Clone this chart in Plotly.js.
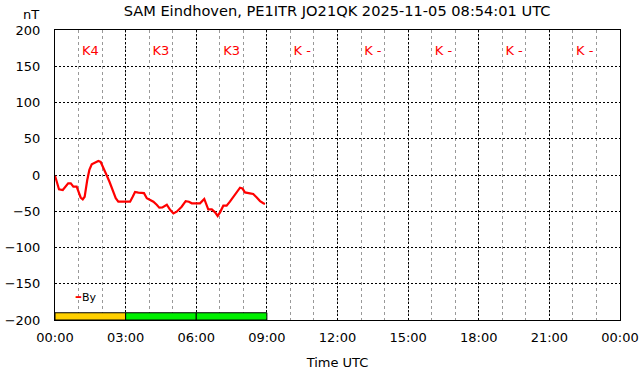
<!DOCTYPE html>
<html>
<head>
<meta charset="utf-8">
<script src="https://cdn.plot.ly/plotly-3.0.1.min.js"></script>
<style>html,body{margin:0;padding:0;background:#fff;}#chart{width:642px;height:376px;}</style>
</head>
<body>
<div id="chart"></div>
<script>
// By component (nT) versus time in hours UTC
const hours = [0.00,0.07,0.17,0.33,0.42,0.56,0.67,0.78,0.92,0.99,1.09,1.18,1.26,1.37,1.46,1.56,1.70,1.84,1.94,2.05,2.17,2.31,2.45,2.58,2.69,2.83,3.02,3.19,3.30,3.40,3.54,3.78,3.90,4.04,4.18,4.32,4.43,4.56,4.75,4.89,5.03,5.17,5.38,5.55,5.69,5.81,5.98,6.16,6.34,6.44,6.51,6.66,6.80,6.91,7.01,7.15,7.29,7.43,7.57,7.72,7.86,7.96,8.07,8.28,8.42,8.57,8.71,8.85,8.92];
const byValues = [-1,-9,-19.7,-20.7,-17,-11.5,-11.5,-16,-16,-21.6,-31,-33.5,-30,-7,7,14.7,17,19.3,18,9,1.4,-9,-20.7,-32,-36.8,-36.8,-36,-36.8,-30,-23.4,-24.4,-25,-32,-34.5,-36.8,-41,-45,-44.6,-41,-48,-53,-50.6,-43.7,-36,-36.8,-39,-39,-39,-33,-41,-47.3,-47.3,-51.5,-56.5,-51.5,-42.3,-42.3,-36.8,-30.8,-23,-17.5,-18.4,-24,-25.3,-26.2,-31,-36,-39,-40];

// K index per 3-hour block
const kCenters = [1.5,4.5,7.5,10.5,13.5,16.5,19.5,22.5];
const kLabels = ["K4","K3","K3","K -","K -","K -","K -","K -"];
const kBarCenters = [1.5,4.5,7.5];
const kBarColors = ["#ffd000","#00f000","#00f000"];

const xTickVals = [0,3,6,9,12,15,18,21,24];
const xTickText = ["00:00","03:00","06:00","09:00","12:00","15:00","18:00","21:00","00:00"];
const yTickVals = [-200,-150,-100,-50,0,50,100,150,200];

const titleText = "SAM Eindhoven, PE1ITR JO21QK 2025-11-05 08:54:01 UTC";
const seriesName = "By";

const font = "DejaVu Sans, sans-serif";

const traces = [
  {
    type: "bar",
    x: kBarCenters,
    y: kBarCenters.map(() => 10),
    base: -200,
    width: 3,
    marker: {color: kBarColors, line: {color: "#000", width: 1}},
    showlegend: false,
    hoverinfo: "skip"
  },
  {
    type: "scatter",
    mode: "text",
    x: kCenters,
    y: kCenters.map(() => 170),
    text: kLabels,
    textfont: {family: font, size: 13, color: "#ff0000"},
    showlegend: false,
    hoverinfo: "skip"
  },
  {
    type: "scatter",
    mode: "lines",
    name: seriesName,
    x: hours,
    y: byValues,
    line: {color: "#ff0000", width: 2.2},
    showlegend: false
  }
];

const layout = {
  width: 642,
  height: 376,
  margin: {l: 55, r: 22, t: 30, b: 56},
  paper_bgcolor: "#fff",
  plot_bgcolor: "#fff",
  font: {family: font, size: 13, color: "#000"},
  title: {text: titleText, x: 0.525, xanchor: "center", y: 0.985, yanchor: "top", font: {family: font, size: 14.6, color: "#000"}},
  showlegend: false,
  bargap: 0,
  xaxis: {
    range: [0, 24],
    tickvals: xTickVals,
    ticktext: xTickText,
    ticks: "",
    ticklabelstandoff: 5,
    showline: true, linecolor: "#000", linewidth: 1, mirror: true,
    showgrid: true, gridcolor: "#000", gridwidth: 1, griddash: "2px,2px",
    zeroline: false,
    minor: {dtick: 1, tick0: 0, showgrid: true, gridcolor: "#999", gridwidth: 1, griddash: "3px,3px", ticks: ""},
    title: {text: "Time UTC", font: {family: font, size: 13}, standoff: 14},
    fixedrange: true
  },
  yaxis: {
    range: [-200, 200],
    tickvals: yTickVals,
    ticks: "",
    ticklabelstandoff: 11,
    showline: true, linecolor: "#000", linewidth: 1, mirror: true,
    showgrid: true, gridcolor: "#000", gridwidth: 1, griddash: "2px,2px",
    zeroline: false,
    fixedrange: true
  },
  annotations: [
    {text: "nT", xref: "paper", yref: "paper", x: -0.042, y: 1.0, xanchor: "center", yanchor: "bottom", yshift: 6, showarrow: false, font: {family: font, size: 13}},
    {text: "<span style='color:#ff0000;font-weight:bold;font-size:14px'>–</span>" + seriesName, xref: "paper", yref: "paper", x: 0.031, y: 0.083, xanchor: "left", yanchor: "middle", showarrow: false, font: {family: font, size: 11, color: "#000"}}
  ]
};

Plotly.newPlot("chart", traces, layout, {staticPlot: true, displayModeBar: false});
</script>
</body>
</html>
